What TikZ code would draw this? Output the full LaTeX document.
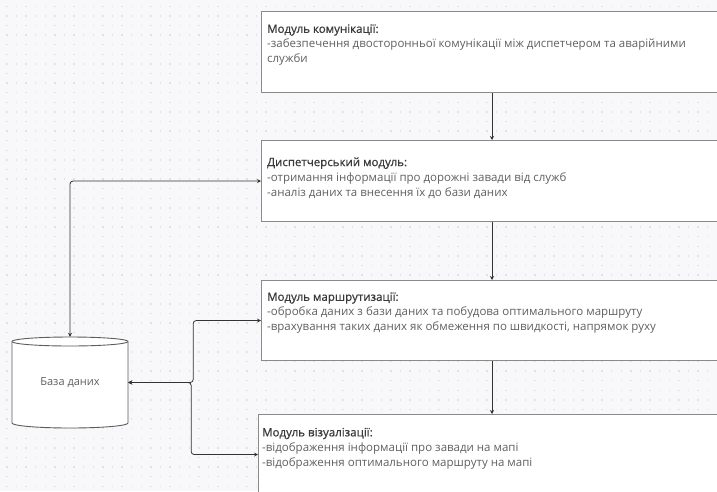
\documentclass[tikz,border=0pt]{standalone}
\usepackage{fontspec}
\setmainfont{Open Sans}
\newfontface\ttlface{Open Sans}[FakeBold=0.7]
\usetikzlibrary{arrows.meta}
\definecolor{bg}{HTML}{F8F8FA}
\definecolor{dotc}{HTML}{E2E2E6}
\definecolor{boxc}{HTML}{8A8A8A}
\definecolor{ttl}{HTML}{3A3A3A}
\definecolor{bodyc}{HTML}{606060}
\definecolor{connc}{HTML}{333333}
\newcommand{\ttlline}[1]{{\ttlface\color{ttl}#1}}
\tikzset{
  box/.style={draw=boxc, line width=1.1pt, fill=white, rectangle, inner sep=0pt, anchor=north west, minimum width=479pt},
  txt/.style={anchor=north west, inner sep=0pt, align=left, text=bodyc, font=\fontsize{11.5}{15}\selectfont},
  conn/.style={draw=connc, line width=0.8pt, -{Stealth[length=4pt,width=4pt]}},
  conn2/.style={draw=connc, line width=0.8pt, rounded corners=3pt, {Stealth[length=4pt,width=4pt]}-{Stealth[length=4pt,width=4pt]}},
  cyl/.style={draw=connc!80, line width=0.9pt, fill=white},
}
\begin{document}
\begin{tikzpicture}[x=1pt,y=-1pt]
\useasboundingbox (0,0) rectangle (717,491);
\clip (0,0) rectangle (717,491);
\fill[bg] (0,0) rectangle (717,491);
\foreach \i in {0,...,74}{
  \foreach \j in {0,...,50}{
    \fill[dotc] (6.2+9.6*\i,5.6+9.6*\j) rectangle ++(1.3,1.3);
  }
}
% boxes
\node[box, minimum height=81pt] (b1) at (261,11) {};
\node[box, minimum height=81pt] (b2) at (261,140) {};
\node[box, minimum height=80pt] (b3) at (261,280) {};
\node[box, minimum height=80pt] (b4) at (258,414) {};
% texts
\node[txt] (t1) at (267,24.2) {\ttlline{Модуль комунікації:}\\-забезпечення двосторонньої комунікації між диспетчером та аварійними\\служби};
\node[txt] (t2) at (267,157.2) {\ttlline{Диспетчерський модуль:}\\-отримання інформації про дорожні завади від служб\\-аналіз даних та внесення їх до бази даних};
\node[txt] (t3) at (267,292.2) {\ttlline{Модуль маршрутизації:}\\-обробка даних з бази даних та побудова оптимального маршруту\\-врахування таких даних як обмеження по швидкості, напрямок руху};
\node[txt] (t4) at (262,427.7) {\ttlline{Модуль візуалізації:}\\-відображення інформації про завади на мапі\\-відображення оптимального маршруту на мапі};
% database cylinder
\draw[cyl] (12,341.5) -- (12,423) arc[start angle=180,end angle=360,x radius=58pt,y radius=5pt] -- (128,341.5) arc[start angle=0,end angle=180,x radius=58pt,y radius=4.5pt] -- cycle;
\draw[cyl, fill=none] (12,341.5) arc[start angle=180,end angle=360,x radius=58pt,y radius=4.5pt];
\node[rectangle, minimum width=116pt, minimum height=91pt, inner sep=0pt, text=bodyc, font=\fontsize{11}{13}\selectfont] (db) at (70,382.5) {База даних};
% vertical connectors
\coordinate (ax) at (492,0);
\draw[conn] (b1.south -| ax) -- (b2.north -| ax);
\draw[conn] (b2.south -| ax) -- (b3.north -| ax);
\draw[conn] (b3.south -| ax) -- (b4.north -| ax);
% database connectors
\draw[conn2] (db.north) |- (b2.west);
\draw[conn2] (db.east) -- ++(65,0) |- (b3.west);
\draw[conn2] (db.east) -- ++(63,0) |- (b4.west);
\end{tikzpicture}
\end{document}
